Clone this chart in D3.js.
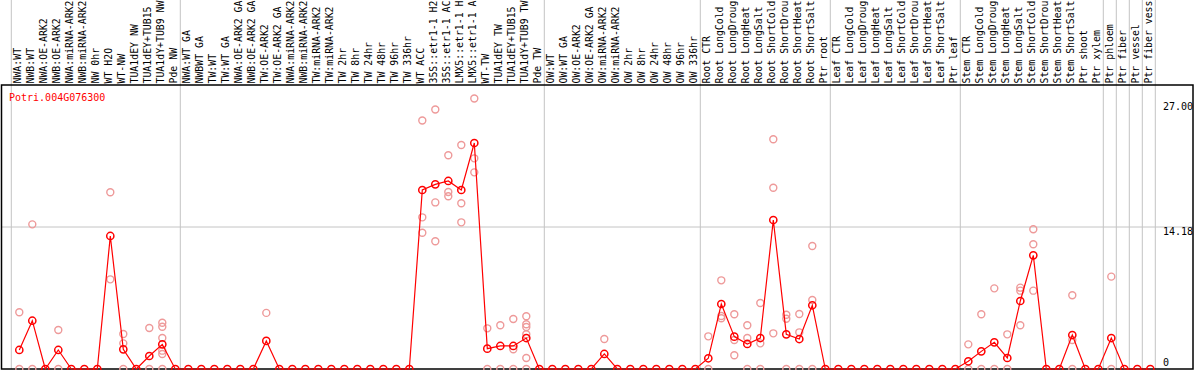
<!DOCTYPE html>
<html><head><meta charset="utf-8">
<script src="https://cdn.jsdelivr.net/npm/d3@7"></script>
<style>html,body{margin:0;padding:0;background:#fff;}svg{display:block;}</style>
</head><body>
<svg id="chart" width="1194" height="370"></svg>
<script>
const geneName = "Potri.004G076300";
const categories = [
 "NWA:WT","NWB:WT","NWA:OE-ARK2","NWB:OE-ARK2","NWA:miRNA-ARK2","NWB:miRNA-ARK2","NW 0hr","WT H2O","WT-NW","TUA1dEY NW","TUA1dEY+TUB15","TUA1dY+TUB9 NW","Pde NW",
 "NWA:WT GA","NWBWT GA","TW:WT","TW:WT GA","NWA:OE-ARK2 GA","NWB:OE-ARK2 GA","TW:OE-ARK2","TW:OE-ARK2 GA","NWA:miRNA-ARK2 ","NWB:miRNA-ARK2 ","TW:miRNA-ARK2","TW:miRNA-ARK2 ","TW 2hr","TW 8hr","TW 24hr","TW 48hr","TW 96hr","TW 336hr","WT ACC","35S::etr1-1 H2","35S::etr1-1 AC","LMX5::etr1-1 H","LMX5::etr1-1 A","WT-TW","TUA1dEY TW","TUA1dEY+TUB15 ","TUA1dY+TUB9 TW","Pde TW",
 "OW:WT","OW:WT GA","OW:OE-ARK2","OW:OE-ARK2 GA","OW:miRNA-ARK2","OW:miRNA-ARK2 ","OW 2hr","OW 8hr","OW 24hr","OW 48hr","OW 96hr","OW 336hr",
 "Root CTR","Root LongCold","Root LongDroug","Root LongHeat","Root LongSalt","Root ShortCold","Root ShortDrou","Root ShortHeat","Root ShortSalt","Ptr root",
 "Leaf CTR","Leaf LongCold","Leaf LongDroug","Leaf LongHeat","Leaf LongSalt","Leaf ShortCold","Leaf ShortDrou","Leaf ShortHeat","Leaf ShortSalt","Ptr leaf",
 "Stem CTR","Stem LongCold","Stem LongDroug","Stem LongHeat","Stem LongSalt","Stem ShortCold","Stem ShortDrou","Stem ShortHeat","Stem ShortSalt","Ptr shoot",
 "Ptr xylem","Ptr phloem","Ptr fiber","Ptr vessel","Ptr fiber vess"
];
const meanValues = [
 1.9,4.82,0,1.9,0,0,0,13.28,1.96,0,1.3,2.46,0,
 0,0,0,0,0,0,2.8,0,0,0,0,0,0,0,0,0,0,0,17.87,18.43,18.77,17.87,22.56,2.03,2.3,2.3,3.09,0,
 0,0,0,0,1.5,0,0,0,0,0,0,0,
 1.07,6.49,3.23,2.5,3.09,14.87,3.46,2.99,6.36,0,
 0,0,0,0,0,0,0,0,0,0,
 0.77,1.76,2.66,1.1,6.79,11.35,0,0,3.39,0,
 0,3.09,0,0,0
];
const replicateValues = [
 [5.66,0],[14.44,0],[],[3.89,0],[],[],[],[17.64,8.95],[3.49,2.56,0],[],[4.09,0],[4.62,4.22,3.09,1.83,1.5,0],[],
 [],[],[],[],[],[],[5.6],[],[],[],[],[],[],[],[],[],[],[],[24.8,15.14,13.6],[25.9,16.63,12.75],[21.33,17.67,17.24],[22.36,16.54,14.64],[27.0,21.03,19.63],[4.06,0],[4.36,0],[4.99,1.97,0],[5.26,4.46,4.19,3.46,1.1,0],[],
 [],[],[],[],[3.0],[],[],[],[],[],[],[],
 [3.26,0],[8.85,5.29,5.06],[5.46,2.9,1.37],[4.36,3.09,0],[6.59,2.56,0],[22.93,18.1,3.56],[5.42,5.02,0],[5.49,3.66,0],[12.28,6.89,0],[],
 [],[],[],[],[],[],[],[],[],[],
 [2.46,0],[5.46,0],[8.05,0],[3.46,0],[8.12,7.82,4.36],[13.95,12.45,7.82],[],[],[7.36,2.9,0],[],
 [],[9.22,0],[],[],[]
];
const groupStartIdx = [0,13,41,53,63,73,84,85,86,87,88];
const axisMaxLabel = 27.00;

const W = 1194, H = 370;
const plot = {left:1.5, right:1193, top:85, bottom:369};
const yMax = d3.max(replicateValues.flat().concat(meanValues)) * 1.05;
const y = d3.scaleLinear().domain([0, yMax]).range([plot.bottom, plot.top]);
const x = d3.scaleBand().domain(categories).range([12.8, 12.8 + 13*categories.length]).padding(0);
const cx = c => x(c) + x.bandwidth()/2;

const svg = d3.select("#chart");
const font = "'DejaVu Sans Mono', monospace";
const grid = "#c4c4c4";

// group separators
svg.append("g").selectAll("line").data(groupStartIdx).join("line")
  .attr("x1", i => 12.8 + 13*i - 1.5).attr("x2", i => 12.8 + 13*i - 1.5)
  .attr("y1", 0).attr("y2", plot.bottom)
  .attr("stroke", grid).attr("stroke-width", 1);

// mid gridline
svg.append("line").attr("x1", plot.left).attr("x2", plot.right)
  .attr("y1", y(yMax/2)).attr("y2", y(yMax/2)).attr("stroke", grid).attr("stroke-width", 1);

// frame
svg.append("rect").attr("x", plot.left).attr("y", plot.top)
  .attr("width", plot.right - plot.left).attr("height", plot.bottom - plot.top)
  .attr("fill", "none").attr("stroke", "#000").attr("stroke-width", 1.5);

// category labels
svg.append("g").selectAll("text").data(categories).join("text")
  .attr("transform", c => `translate(${cx(c)+2},83.5) rotate(-90)`)
  .attr("font-family", font).attr("font-size", 9.85).attr("fill", "#000")
  .text(c => c.trim());

// axis labels
const ticks = [
  {v: axisMaxLabel, t: axisMaxLabel.toFixed(2), dy: 11.5},
  {v: yMax/2, t: (yMax/2).toFixed(2), dy: 8},
  {v: 0, t: "0", dy: -3}
];
svg.append("g").selectAll("text").data(ticks).join("text")
  .attr("x", 1163).attr("y", d => y(d.v) + d.dy)
  .attr("font-family", font).attr("font-size", 10).attr("fill", "#000")
  .text(d => d.t);

// title
svg.append("text").attr("x", 9).attr("y", 101)
  .attr("font-family", font).attr("font-size", 10).attr("fill", "#ff0000").text(geneName);

// replicates
const reps = [];
replicateValues.forEach((arr, i) => arr.forEach(v => reps.push({c: categories[i], v})));
svg.append("g").selectAll("circle").data(reps).join("circle")
  .attr("cx", d => cx(d.c)).attr("cy", d => y(d.v)).attr("r", 3.5)
  .attr("fill", "none").attr("stroke", "#ee9a9a").attr("stroke-width", 1.4);

// mean line
const pts = categories.map((c, i) => ({c, v: meanValues[i]}));
svg.append("path").datum(pts)
  .attr("d", d3.line().x(d => cx(d.c)).y(d => y(d.v)))
  .attr("fill", "none").attr("stroke", "#ff0000").attr("stroke-width", 1.2);
svg.append("g").selectAll("circle").data(pts).join("circle")
  .attr("cx", d => cx(d.c)).attr("cy", d => y(d.v)).attr("r", 3.6)
  .attr("fill", "none").attr("stroke", "#ff0000").attr("stroke-width", 1.5);
</script>
</body></html>
